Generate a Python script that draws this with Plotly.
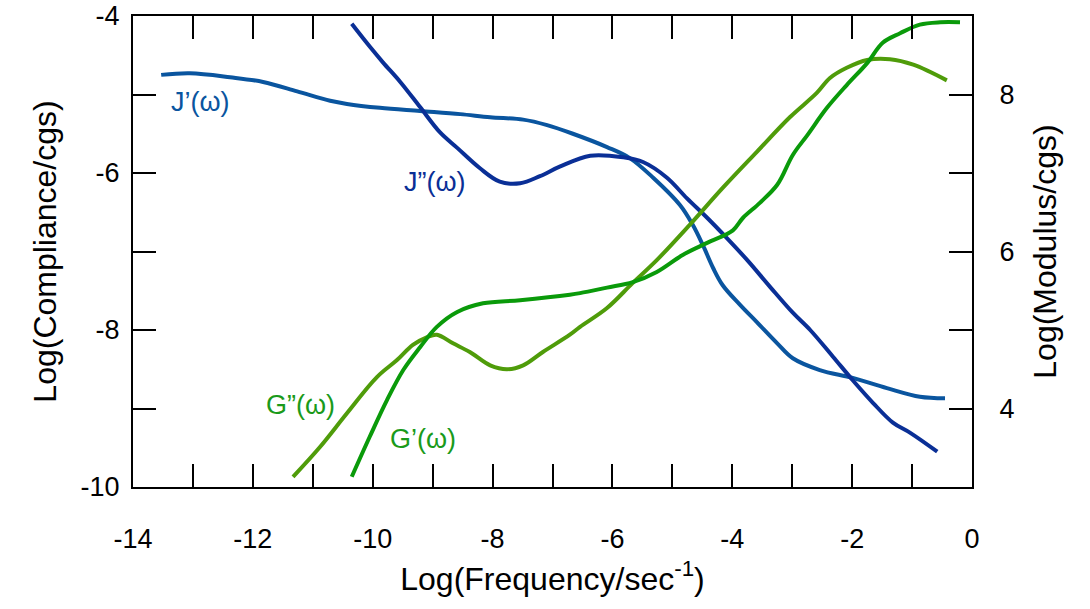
import plotly.graph_objects as go

# J'(omega)  (left axis: Log compliance)
jp_x = [-13.53, -13.05, -12.38, -11.83, -11.26, -10.71, -10.43, -9.88, -9.21, -8.54, -8.04, -7.49, -7.09,
        -6.66, -6.09, -5.71, -5.32, -4.87, -4.66, -4.49, -4.32, -4.16, -3.87, -3.59, -3.25, -2.99, -2.54,
        -1.99, -1.42, -0.87, -0.45]
jp_y = [-4.75, -4.73, -4.78, -4.84, -4.96, -5.08, -5.12, -5.17, -5.21, -5.25, -5.29, -5.32, -5.39,
        -5.50, -5.67, -5.81, -6.06, -6.41, -6.66, -6.92, -7.21, -7.43, -7.68, -7.90, -8.17, -8.36, -8.51,
        -8.61, -8.74, -8.85, -8.87]

# J''(omega)
jpp_x = [-10.35, -10.05, -9.83, -9.54, -9.21, -8.88, -8.59, -8.21, -7.88, -7.54, -7.21, -6.88, -6.37,
         -5.82, -5.49, -5.09, -4.76, -4.42, -4.09, -3.75, -3.37, -2.99, -2.70, -2.32, -1.99, -1.65, -1.32,
         -1.03, -0.58]
jpp_y = [-4.10, -4.39, -4.59, -4.84, -5.16, -5.48, -5.68, -5.94, -6.11, -6.13, -6.04, -5.92, -5.78,
         -5.80, -5.86, -6.06, -6.32, -6.57, -6.83, -7.11, -7.45, -7.78, -8.00, -8.34, -8.64, -8.93, -9.18,
         -9.31, -9.55]

# G''(omega)  (right axis: Log modulus)
gpp_x = [-11.33, -10.88, -10.43, -9.93, -9.59, -9.33, -9.09, -8.93, -8.66, -8.38, -8.04, -7.76, -7.49,
         -7.16, -6.71, -6.54, -6.09, -5.66, -5.26, -4.71, -4.16, -3.59, -3.04, -2.59, -2.37, -2.09, -1.75,
         -1.37, -0.98, -0.42]
gpp_y = [3.13, 3.51, 3.94, 4.40, 4.62, 4.81, 4.91, 4.94, 4.83, 4.72, 4.55, 4.50, 4.55,
         4.72, 4.94, 5.04, 5.28, 5.60, 5.89, 6.34, 6.81, 7.27, 7.71, 8.02, 8.21, 8.34, 8.44,
         8.45, 8.38, 8.18]

# G'(omega)
gp_x = [-10.35, -10.05, -9.76, -9.49, -9.21, -8.93, -8.59, -8.16, -7.54, -6.71, -6.54, -6.09, -5.66,
        -5.26, -4.82, -4.42, -3.99, -3.82, -3.54, -3.25, -2.99, -2.75, -2.42, -2.09, -1.75, -1.49, -1.20,
        -0.87, -0.53, -0.20]
gp_y = [3.13, 3.64, 4.11, 4.49, 4.78, 5.04, 5.23, 5.34, 5.38, 5.45, 5.47, 5.54, 5.61,
        5.74, 5.96, 6.11, 6.27, 6.43, 6.62, 6.85, 7.23, 7.48, 7.83, 8.12, 8.40, 8.66, 8.78,
        8.89, 8.92, 8.92]

x_ticks = list(range(-14, 1))
x_labels = [str(v) if v % 2 == 0 else "" for v in x_ticks]
y_ticks = list(range(-10, -3))
y_labels = [str(v) if v % 2 == 0 else "" for v in y_ticks]
y2_ticks = list(range(3, 10))
y2_labels = [str(v) if v % 2 == 0 else "" for v in y2_ticks]

labels = [
    ("J’(ω)", -12.88, -5.10, "#0a559f"),
    ("J”(ω)", -8.96, -6.11, "#0a2f96"),
    ("G”(ω)", -11.21, -8.96, "#1a9a1a"),
    ("G’(ω)", -9.16, -9.39, "#1a9a1a"),
]

FONT = "Liberation Sans, Arial, sans-serif"
fig = go.Figure()
fig.add_trace(go.Scatter(x=jp_x, y=jp_y, mode="lines", line=dict(color="#0a559f", width=4, shape="spline"),
                         yaxis="y", showlegend=False))
fig.add_trace(go.Scatter(x=jpp_x, y=jpp_y, mode="lines", line=dict(color="#0a2f96", width=4, shape="spline"),
                         yaxis="y", showlegend=False))
fig.add_trace(go.Scatter(x=gpp_x, y=gpp_y, mode="lines", line=dict(color="#4f9c0a", width=4, shape="spline"),
                         yaxis="y2", showlegend=False))
fig.add_trace(go.Scatter(x=gp_x, y=gp_y, mode="lines", line=dict(color="#0a9a0a", width=4, shape="spline"),
                         yaxis="y2", showlegend=False))

for txt, lx, ly, col in labels:
    fig.add_annotation(x=lx, y=ly, xref="x", yref="y", text=txt, showarrow=False,
                       font=dict(family=FONT, size=27, color=col))

fig.update_layout(
    width=1090, height=609,
    margin=dict(l=133, r=118, t=16, b=122),
    plot_bgcolor="white", paper_bgcolor="white",
    font=dict(family=FONT, size=27, color="black"),
    xaxis=dict(range=[-14, 0], tickvals=x_ticks, ticktext=x_labels, ticks="inside", ticklen=23,
               tickwidth=2, tickcolor="black", showline=True, linewidth=2, linecolor="black",
               mirror="ticks", showgrid=False, zeroline=False, ticklabelstandoff=27, automargin=False,
               title=dict(text="Log(Frequency/sec<sup>-1</sup>)", standoff=14)),
    yaxis=dict(range=[-10, -4], tickvals=y_ticks, ticktext=y_labels, ticks="inside", ticklen=23,
               tickwidth=2, tickcolor="black", showline=True, linewidth=2, linecolor="black",
               showgrid=False, zeroline=False, ticklabelstandoff=6, automargin=False,
               title=dict(text="Log(Compliance/cgs)", standoff=14)),
    yaxis2=dict(range=[3, 9], overlaying="y", side="right", tickvals=y2_ticks, ticktext=y2_labels,
                ticks="inside", ticklen=23, tickwidth=2, tickcolor="black", showline=True, linewidth=2,
                linecolor="black", showgrid=False, zeroline=False, ticklabelstandoff=20, automargin=False,
                title=dict(text="Log(Modulus/cgs)", standoff=20)),
)

fig.write_html("out.html")
